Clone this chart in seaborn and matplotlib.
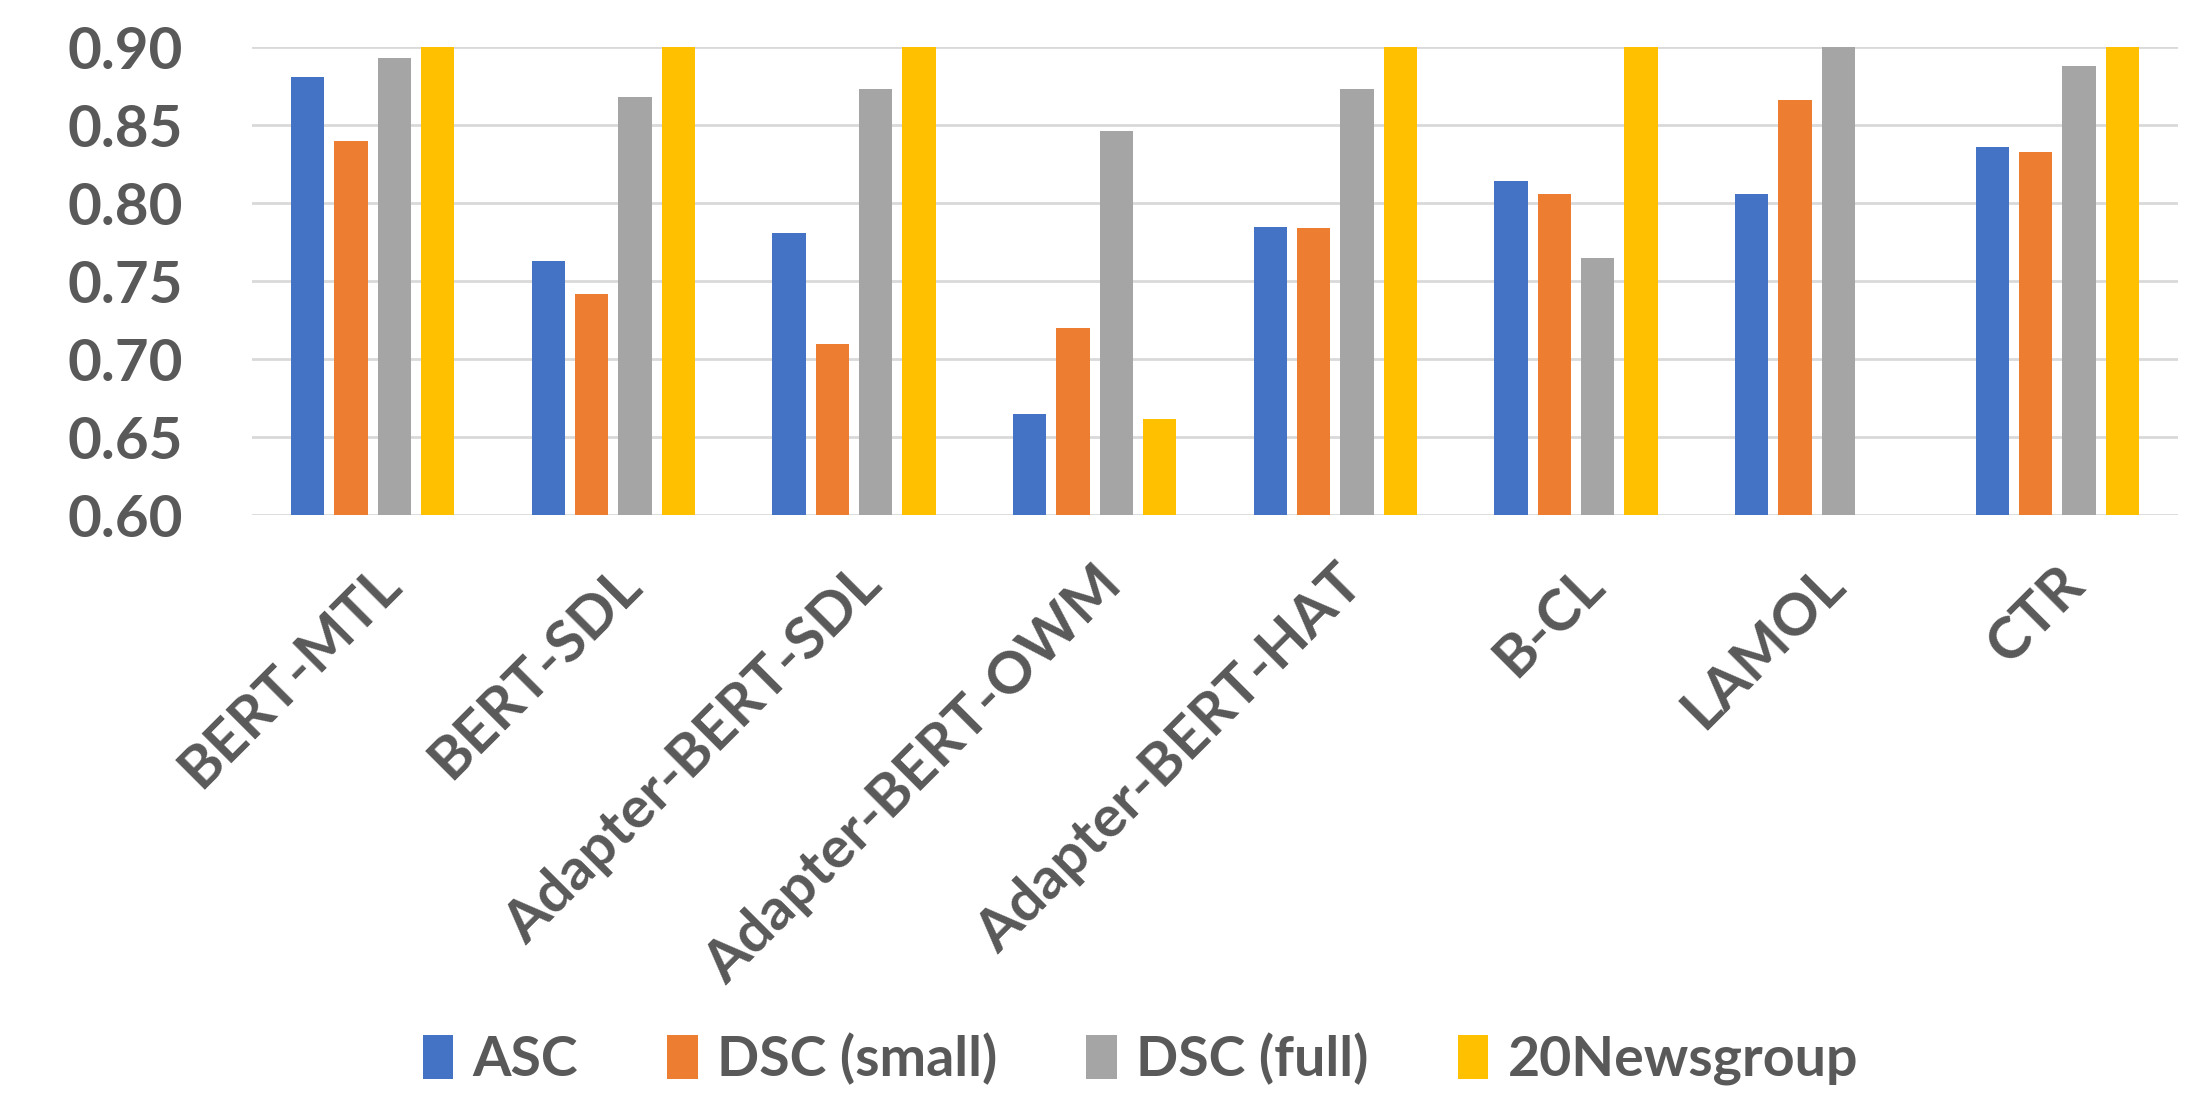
import matplotlib
matplotlib.use("Agg")
import matplotlib.pyplot as plt
import seaborn as sns
import pandas as pd
import numpy as np

methods = ["BERT-MTL", "BERT-SDL", "Adapter-BERT-SDL", "Adapter-BERT-OWM",
           "Adapter-BERT-HAT", "B-CL", "LAMOL", "CTR"]
series = ["ASC", "DSC (small)", "DSC (full)", "20Newsgroup"]
asc = [0.881, 0.763, 0.781, 0.665, 0.785, 0.814, 0.806, 0.836]
dsc_small = [0.840, 0.742, 0.710, 0.720, 0.784, 0.806, 0.866, 0.833]
dsc_full = [0.893, 0.868, 0.873, 0.846, 0.873, 0.765, 0.905, 0.888]
news20 = [0.930, 0.930, 0.930, 0.662, 0.930, 0.930, 0.560, 0.930]
colors = ["#4472C4", "#ED7D31", "#A5A5A5", "#FFC000"]
yticks = [0.60, 0.65, 0.70, 0.75, 0.80, 0.85, 0.90]

df = pd.DataFrame({
    "method": np.repeat(methods, 4),
    "series": series * len(methods),
    "value": [v for row in zip(asc, dsc_small, dsc_full, news20) for v in row],
})

sns.set_theme(style="white")
plt.rcParams["font.family"] = ["Lato", "DejaVu Sans"]
txt = "#595959"

fig = plt.figure(figsize=(21.93, 10.94), dpi=100)
ax = fig.add_axes([0.115, 0.529, 0.878, 0.428])
sns.barplot(data=df, x="method", y="value", hue="series", order=methods,
            hue_order=series, palette=colors, width=0.72, gap=0.23,
            linewidth=0, saturation=1, ax=ax, legend=True)
ax.set_ylim(0.60, 0.90)
ax.set_yticks(yticks)
ax.set_yticklabels([f"{t:.2f}" for t in yticks], fontsize=42, fontweight="bold", color=txt)
ax.set_xticks(range(len(methods)))
ax.set_xticklabels(methods, rotation=45, ha="right", rotation_mode="anchor",
                   fontsize=42, fontweight="bold", color=txt)
ax.tick_params(axis="y", length=0, pad=50)
ax.tick_params(axis="x", length=0, pad=30)
ax.set_xlabel("")
ax.set_ylabel("")
ax.set_xlim(-0.5, len(methods) - 0.5)
ax.yaxis.grid(True, color="#D9D9D9", linewidth=2)
ax.set_axisbelow(True)
for s in ax.spines.values():
    s.set_visible(False)

handles, labels = ax.get_legend_handles_labels()
ax.legend_.remove()
fig.legend(handles, labels, loc="center", bbox_to_anchor=(0.52, 0.032), ncol=4,
           frameon=False, prop={"size": 40, "weight": "bold"}, labelcolor=txt,
           handlelength=0.55, handleheight=0.85, handletextpad=0.35,
           columnspacing=1.6)

fig.savefig("out.png", dpi=100)
